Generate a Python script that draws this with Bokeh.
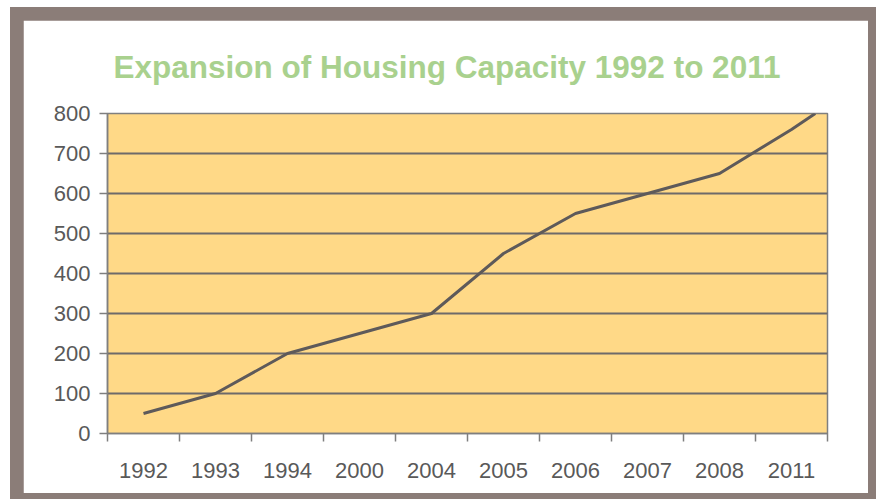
from bokeh.plotting import figure
from bokeh.models import (Range1d, LinearAxis, FixedTicker, ColumnDataSource, Title)
from bokeh.layouts import column
from bokeh.embed import file_html
from bokeh.resources import INLINE

# ---- data ----
years = ["1992", "1993", "1994", "2000", "2004", "2005", "2006", "2007", "2008", "2011"]
capacity = [50, 100, 200, 250, 300, 450, 550, 600, 650, 760]
# the drawn line continues a little past the last category up to the top edge
tail_offset = 0.33
tail_value = 800
y_ticks = [0, 100, 200, 300, 400, 500, 600, 700, 800]
title_text = "Expansion of Housing Capacity 1992 to 2011"

FONT = "Liberation Sans"
LABEL_COLOR = "#595959"
AXIS_COLOR = "#7f7f7f"

n = len(years)
centers = [i + 0.5 for i in range(n)]
bounds = list(range(n + 1))

p = figure(x_range=Range1d(0, n), y_range=Range1d(y_ticks[0], y_ticks[-1]),
           width=845, height=473, output_backend="svg", toolbar_location=None,
           x_axis_location=None, min_border_left=84, min_border_right=41,
           min_border_top=93, min_border_bottom=60)
p.background_fill_color = "#FFD987"
p.border_fill_color = "white"
p.outline_line_color = AXIS_COLOR
p.outline_line_width = 1.5

# title
p.title = Title(text=title_text, align="left", offset=6, standoff=54,
                vertical_align="top",
                text_font=FONT, text_font_size="31.5px", text_font_style="bold",
                text_color="#A9D18E")

# y axis
ya = p.yaxis[0]
ya.ticker = FixedTicker(ticks=y_ticks)
ya.axis_line_color = AXIS_COLOR
ya.axis_line_width = 1.5
ya.major_tick_line_color = AXIS_COLOR
ya.major_tick_line_width = 1.5
ya.major_tick_in = 0
ya.major_tick_out = 8
ya.minor_tick_line_color = None
ya.major_label_text_font = FONT
ya.major_label_text_font_size = "22px"
ya.major_label_text_color = LABEL_COLOR
ya.major_label_standoff = 9

# grid
p.xgrid.grid_line_color = None
p.ygrid.ticker = FixedTicker(ticks=y_ticks)
p.ygrid.grid_line_color = "#6e6a6a"
p.ygrid.grid_line_width = 2

# x axis: labels at category centres, tick marks at category boundaries
xa = LinearAxis(ticker=FixedTicker(ticks=centers, minor_ticks=bounds),
                major_label_overrides={c: y for c, y in zip(centers, years)},
                axis_line_color=AXIS_COLOR, axis_line_width=1.5,
                major_tick_line_color=None, major_tick_in=0, major_tick_out=0,
                minor_tick_line_color=AXIS_COLOR, minor_tick_line_width=1.5,
                minor_tick_in=0, minor_tick_out=8,
                major_label_text_font=FONT,
                major_label_text_font_size="22px",
                major_label_text_color=LABEL_COLOR,
                major_label_standoff=21)
p.add_layout(xa, "below")

# line
xs = centers + [centers[-1] + tail_offset]
ys = list(capacity) + [tail_value]
src = ColumnDataSource(data=dict(x=xs, y=ys))
p.line("x", "y", source=src, line_color="#5E5A5A", line_width=3, line_join="round")

layout = column(p, styles={"background-color": "#8b7d78",
                           "padding": "13px 8px 6px 13px",
                           "margin": "7px 0px 0px 10px"})

open("out.html", "w").write(file_html(layout, INLINE))
